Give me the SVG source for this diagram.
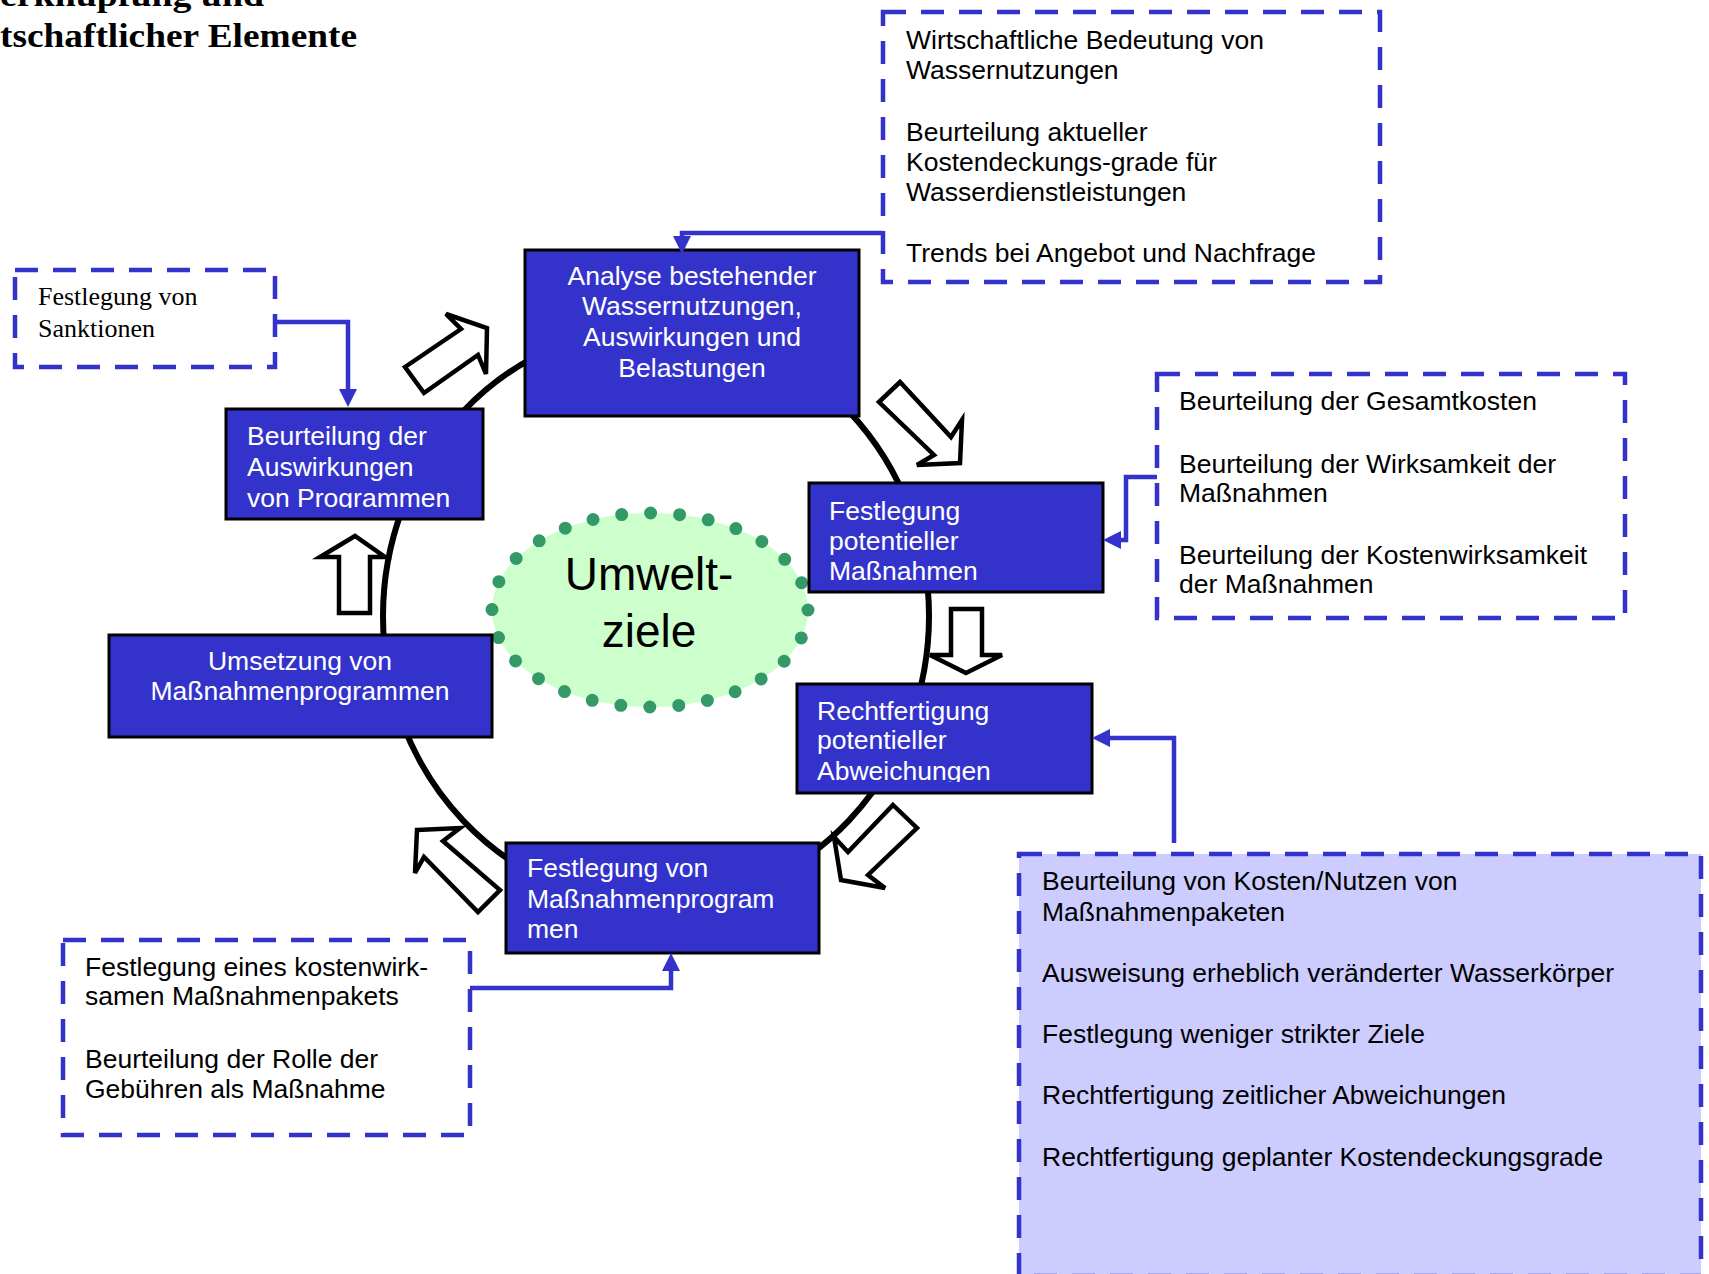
<svg xmlns="http://www.w3.org/2000/svg" width="1709" height="1274" viewBox="0 0 1709 1274">
<style>
.box{fill:#3333CC;stroke:#000;stroke-width:3}
.bt{font-family:"Liberation Sans",Arial,sans-serif;font-size:26.5px;fill:#fff}
.dt{font-family:"Liberation Sans",Arial,sans-serif;font-size:26.5px;fill:#000}
.dash{fill:#fff;stroke:#3333CC;stroke-width:4.5;stroke-dasharray:23 15}
.conn{fill:none;stroke:#3333CC;stroke-width:4.5}
.barrow{fill:#fff;stroke:#000;stroke-width:4.5;stroke-linejoin:miter}
.title{font-family:"Liberation Serif","Times New Roman",serif;font-weight:bold;font-size:33px;fill:#000}
</style>
<defs>
<marker id="ah" markerUnits="userSpaceOnUse" markerWidth="20" markerHeight="20" refX="0" refY="9" orient="auto">
<path d="M0,0 L18,9 L0,18 z" fill="#3333CC"/>
</marker>
<clipPath id="clipB"><rect x="226" y="409" width="257" height="99"/></clipPath>
<clipPath id="clipR"><rect x="797" y="684" width="295" height="98"/></clipPath>
</defs>
<rect x="0" y="0" width="1709" height="1274" fill="#fff"/>

<g id="title">
<text class="title" x="0" y="6" textLength="264" lengthAdjust="spacingAndGlyphs">erknüpfung und</text>
<text class="title" x="0" y="47" textLength="357" lengthAdjust="spacingAndGlyphs">tschaftlicher Elemente</text>
</g>

<g id="cycle">
<ellipse cx="656" cy="616" rx="273" ry="289" fill="none" stroke="#000" stroke-width="6"/>
</g>

<g id="umweltziele">
<ellipse cx="650" cy="610" rx="158" ry="97" fill="#CCFFCC" stroke="#339966" stroke-width="13" stroke-linecap="round" stroke-dasharray="0 29.03"/>
<text x="649" y="590" text-anchor="middle" font-family="'Liberation Sans',Arial,sans-serif" font-size="46" fill="#000">Umwelt-</text>
<text x="649" y="647" text-anchor="middle" font-family="'Liberation Sans',Arial,sans-serif" font-size="46" fill="#000">ziele</text>
</g>

<g id="analyse">
<rect class="box" x="525" y="250" width="334" height="166"/>
<text class="bt" text-anchor="middle"><tspan x="692" y="285">Analyse bestehender</tspan><tspan x="692" y="315">Wassernutzungen,</tspan><tspan x="692" y="346">Auswirkungen und</tspan><tspan x="692" y="377">Belastungen</tspan></text>
</g>

<g id="festlegung-potentieller">
<rect class="box" x="809" y="483" width="294" height="109"/>
<text class="bt"><tspan x="829" y="520">Festlegung</tspan><tspan x="829" y="550">potentieller</tspan><tspan x="829" y="580">Maßnahmen</tspan></text>
</g>

<g id="rechtfertigung">
<rect class="box" x="797" y="684" width="295" height="109"/>
<text class="bt" clip-path="url(#clipR)"><tspan x="817" y="720">Rechtfertigung</tspan><tspan x="817" y="749">potentieller</tspan><tspan x="817" y="780">Abweichungen</tspan></text>
</g>

<g id="festlegung-programme">
<rect class="box" x="506" y="843" width="313" height="110"/>
<text class="bt"><tspan x="527" y="877">Festlegung von</tspan><tspan x="527" y="908">Maßnahmenprogram</tspan><tspan x="527" y="938">men</tspan></text>
</g>

<g id="umsetzung">
<rect class="box" x="109" y="635" width="383" height="102"/>
<text class="bt" text-anchor="middle"><tspan x="300" y="670">Umsetzung von</tspan><tspan x="300" y="700">Maßnahmenprogrammen</tspan></text>
</g>

<g id="beurteilung-auswirkungen">
<rect class="box" x="226" y="409" width="257" height="110"/>
<text class="bt" clip-path="url(#clipB)"><tspan x="247" y="445">Beurteilung der</tspan><tspan x="247" y="476">Auswirkungen</tspan><tspan x="247" y="507">von Programmen</tspan></text>
</g>

<g id="block-arrows">
<polygon class="barrow" points="405,367 461,329 446,314 487,328 486,374 478,355 424,393"/>
<polygon class="barrow" points="879,402 900,382 951,437 962,420 960,463 917,465 934,455"/>
<polygon class="barrow" points="951,609 982,609 982,655 1002,655 966,673 930,655 951,655"/>
<polygon class="barrow" points="893,805 917,828 868,875 885,888 841,880 834,837 848,852"/>
<polygon class="barrow" points="417,830 460,828 443,841 500,890 478,912 424,857 415,873"/>
<polygon class="barrow" points="339,613 370,613 370,557 385,557 355,536 320,557 339,557"/>
</g>

<g id="dash-wirtschaft">
<rect class="dash" x="883" y="12" width="497" height="270"/>
<text class="dt"><tspan x="906" y="49">Wirtschaftliche Bedeutung von</tspan><tspan x="906" y="79">Wassernutzungen</tspan><tspan x="906" y="141">Beurteilung aktueller</tspan><tspan x="906" y="171">Kostendeckungs-grade für</tspan><tspan x="906" y="201">Wasserdienstleistungen</tspan><tspan x="906" y="262">Trends bei Angebot und Nachfrage</tspan></text>
</g>

<g id="dash-sanktionen">
<rect class="dash" x="15" y="270" width="260" height="97"/>
<text font-family="'Liberation Serif','Times New Roman',serif" font-size="26" fill="#000"><tspan x="38" y="305">Festlegung von</tspan><tspan x="38" y="337">Sanktionen</tspan></text>
</g>

<g id="dash-kosten">
<rect class="dash" x="1157" y="374" width="468" height="244"/>
<text class="dt"><tspan x="1179" y="410">Beurteilung der Gesamtkosten</tspan><tspan x="1179" y="473">Beurteilung der Wirksamkeit der</tspan><tspan x="1179" y="502">Maßnahmen</tspan><tspan x="1179" y="564">Beurteilung der Kostenwirksamkeit</tspan><tspan x="1179" y="593">der Maßnahmen</tspan></text>
</g>

<g id="dash-paket">
<rect class="dash" x="63" y="940" width="407" height="195"/>
<text class="dt"><tspan x="85" y="976">Festlegung eines kostenwirk-</tspan><tspan x="85" y="1005">samen Maßnahmenpakets</tspan><tspan x="85" y="1068">Beurteilung der Rolle der</tspan><tspan x="85" y="1098">Gebühren als Maßnahme</tspan></text>
</g>

<g id="dash-abweichungen">
<rect class="dash" x="1019" y="854" width="682" height="422" style="fill:#CCCCFF"/>
<text class="dt"><tspan x="1042" y="890">Beurteilung von Kosten/Nutzen von</tspan><tspan x="1042" y="921">Maßnahmenpaketen</tspan><tspan x="1042" y="982">Ausweisung erheblich veränderter Wasserkörper</tspan><tspan x="1042" y="1043">Festlegung weniger strikter Ziele</tspan><tspan x="1042" y="1104">Rechtfertigung zeitlicher Abweichungen</tspan><tspan x="1042" y="1166">Rechtfertigung geplanter Kostendeckungsgrade</tspan></text>
</g>

<g id="connectors">
<polyline class="conn" points="883,233 682,233 682,236" marker-end="url(#ah)"/>
<polyline class="conn" points="275,322 348,322 348,389" marker-end="url(#ah)"/>
<polyline class="conn" points="1157,477 1126,477 1126,540 1121,540" marker-end="url(#ah)"/>
<polyline class="conn" points="1174,843 1174,738 1110,738" marker-end="url(#ah)"/>
<polyline class="conn" points="470,988 671,988 671,971" marker-end="url(#ah)"/>
</g>
</svg>
